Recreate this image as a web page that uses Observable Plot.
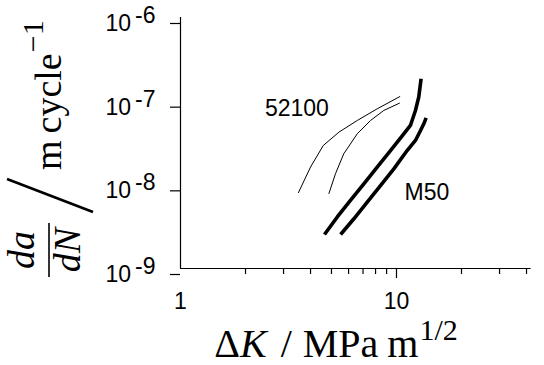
<!DOCTYPE html>
<html>
<head>
<meta charset="utf-8">
<script src="https://cdn.jsdelivr.net/npm/d3@7"></script>
<script src="https://cdn.jsdelivr.net/npm/@observablehq/plot@0.6"></script>
<style>
  html, body { margin: 0; padding: 0; background: #fff; }
</style>
</head>
<body>
<div id="chart"></div>
<script>
// ---- data ----
const a52100_dK   = [3.51, 4.0, 4.58, 5.41, 6.58, 8.14, 10.4];
const a52100_dadN = [8.0e-9, 1.63e-8, 2.95e-8, 4.26e-8, 5.87e-8, 8.1e-8, 1.14e-7];

const b52100_dK   = [4.86, 5.22, 5.70, 6.58, 7.58, 8.73, 10.36];
const b52100_dadN = [7.8e-9, 1.36e-8, 2.35e-8, 4.07e-8, 5.87e-8, 7.74e-8, 9.5e-8];

const aM50_dK   = [4.64, 5.31, 6.12, 7.06, 8.14, 9.38, 10.81, 11.6, 12.24, 12.68, 13.0];
const aM50_dadN = [2.55e-9, 4.1e-9, 6.5e-9, 1.03e-8, 1.63e-8, 2.57e-8, 4.07e-8, 5.12e-8, 7.74e-8, 1.12e-7, 1.85e-7];

const bM50_dK   = [5.51, 6.35, 7.32, 8.43, 9.72, 11.2, 12.24, 12.92, 13.38, 13.72];
const bM50_dadN = [2.55e-9, 3.93e-9, 6.2e-9, 9.8e-9, 1.55e-8, 2.57e-8, 3.39e-8, 4.46e-8, 5.36e-8, 6.32e-8];

const labelText = ["52100", "M50"];
const labelDK   = [3.46, 13.84];
const labelDadN = [8.06e-8, 7.98e-9];

const xMajorTicks = [1, 10];
const xMinorTicks = [2, 3, 4, 5, 6, 7, 8, 9, 20, 30, 40];
const yTicks = [1e-9, 1e-8, 1e-7, 1e-6];

// ---- tables ----
const toRows = (xs, ys) => xs.map((x, i) => ({dK: x, dadN: ys[i]}));
const s52100a = toRows(a52100_dK, a52100_dadN);
const s52100b = toRows(b52100_dK, b52100_dadN);
const sM50a = toRows(aM50_dK, aM50_dadN);
const sM50b = toRows(bM50_dK, bM50_dadN);
const labels = labelText.map((t, i) => ({t, dK: labelDK[i], dadN: labelDadN[i]}));

const svg = Plot.plot({
  width: 544,
  height: 365,
  marginLeft: 180,
  marginRight: 13.4,
  marginTop: 17,
  marginBottom: 97,
  style: {fontFamily: "'Liberation Sans', Arial, sans-serif", fontSize: "23px", background: "#fff", color: "#000"},
  x: {type: "log", domain: [1, 42]},
  y: {type: "log", domain: [1e-9, 1e-6]},
  marks: [
    Plot.ruleX([1], {stroke: "#000", strokeWidth: 1.2}),
    Plot.ruleY([1e-9], {stroke: "#000", strokeWidth: 1.2}),
    Plot.axisX(xMinorTicks, {label: null, tickSize: 6, tickFormat: () => "", strokeWidth: 1.2}),
    Plot.axisX([10], {label: null, tickSize: 10, tickFormat: () => "", strokeWidth: 1.2}),
    Plot.axisX(xMajorTicks, {label: null, tickSize: 0, tickPadding: 24, tickFormat: d => String(d), fontSize: 23}),
    Plot.axisY(yTicks, {label: null, tickSize: 10, tickPadding: 15, strokeWidth: 1.2, dy: 6, fontSize: 23,
      tickFormat: d => "10|-" + Math.round(-Math.log10(d))}),
    Plot.line(s52100a, {x: "dK", y: "dadN", stroke: "#000", strokeWidth: 1, strokeLinecap: "butt"}),
    Plot.line(s52100b, {x: "dK", y: "dadN", stroke: "#000", strokeWidth: 1, strokeLinecap: "butt"}),
    Plot.line(sM50a, {x: "dK", y: "dadN", stroke: "#000", strokeWidth: 3.6, strokeLinecap: "butt"}),
    Plot.line(sM50b, {x: "dK", y: "dadN", stroke: "#000", strokeWidth: 3.6, strokeLinecap: "butt"}),
    Plot.text(labels, {x: "dK", y: "dadN", text: "t", fontSize: 23, fill: "#000"})
  ]
});

document.getElementById("chart").appendChild(svg);

const root = d3.select(svg);

// superscript exponents on y tick labels
root.selectAll('g[aria-label="y-axis tick label"] text').each(function() {
  const t = d3.select(this);
  const [base, exp] = t.text().split("|");
  t.text(base);
  t.append("tspan").attr("dx", 4).attr("dy", -8).text(exp);
});

const serif = "'Liberation Serif', 'Times New Roman', serif";

// x-axis title: ΔK / MPa m^{1/2}
const xt = root.append("text")
  .attr("x", 336).attr("y", 357)
  .attr("text-anchor", "middle")
  .attr("font-family", serif)
  .attr("font-size", 40)
  .attr("fill", "#000");
xt.append("tspan").text("Δ");
xt.append("tspan").attr("font-style", "italic").text("K");
xt.append("tspan").attr("dx", 14).text("/");
xt.append("tspan").attr("dx", 11).text("MPa");
xt.append("tspan").attr("dx", 9).text("m");
xt.append("tspan").attr("dx", 1).attr("dy", -17).attr("font-size", 30).text("1/2");

// y-axis title: (da/dN) / m cycle^{-1}, rotated
const yg = root.append("g").attr("transform", "rotate(-90)")
  .attr("font-family", serif).attr("font-size", 38).attr("fill", "#000");
yg.append("text").attr("x", -250).attr("y", 34).attr("text-anchor", "middle")
  .attr("font-style", "italic").text("da");
yg.append("line").attr("x1", -277).attr("x2", -223).attr("y1", 49).attr("y2", 49)
  .attr("stroke", "#000").attr("stroke-width", 1.6);
yg.append("text").attr("x", -250).attr("y", 80).attr("text-anchor", "middle")
  .attr("font-style", "italic").text("dN");
const mc = yg.append("text").attr("x", -170).attr("y", 61).attr("text-anchor", "start");
mc.append("tspan").text("m");
mc.append("tspan").attr("dx", 7).text("cycle");
mc.append("tspan").attr("dx", 1).attr("dy", -18).attr("font-size", 30).text("−1");

// big delimiter slash
root.append("line").attr("x1", 7).attr("y1", 179).attr("x2", 93).attr("y2", 212)
  .attr("stroke", "#000").attr("stroke-width", 2.6);
</script>
</body>
</html>
